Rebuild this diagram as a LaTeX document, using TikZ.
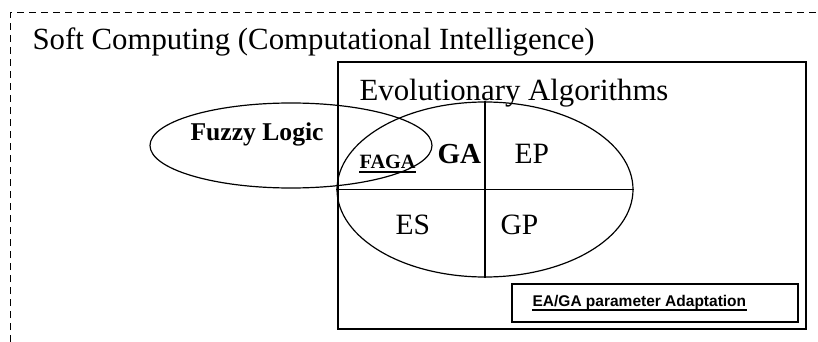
\documentclass[tikz,border=0pt]{standalone}
\usepackage{fontspec}
\setmainfont{Liberation Serif}
\setsansfont{Liberation Sans}
\usepackage{tikz}
\usetikzlibrary{shapes.geometric,positioning,calc}

\begin{document}
\begin{tikzpicture}[x=1pt,y=-1pt,line width=1.2pt,
    bigtext/.style={inner sep=0,anchor=base west,font=\fontsize{30.8}{32}\selectfont},
    boldtext/.style={inner sep=0,anchor=base west,font=\bfseries\fontsize{#1}{#1}\selectfont},
    oval/.style={draw,ellipse,inner sep=0},
    frame/.style={draw,inner sep=0,anchor=north west}]
    \useasboundingbox (0,0) rectangle (818,342);
    % outer soft computing frame (runs off the page)
    \draw[line width=1pt,dash pattern=on 7pt off 5pt] (10,342) |- (818,13);
    \node[bigtext] (soft) at (32,50) {Soft Computing (Computational Intelligence)};

    % evolutionary algorithms
    \node[frame,line width=1.6pt,minimum width=468pt,minimum height=267pt] (eabox) at (337,61) {};
    \node[bigtext] (ealbl) at (359,100) {Evolutionary Algorithms};
    \node[oval,minimum width=296pt,minimum height=175pt] (venn) at (485,189.5) {};
    \draw (venn.north) -- (venn.south);
    \draw (venn.west) -- (venn.east);

    % fuzzy logic
    \node[oval,minimum width=282pt,minimum height=85pt] (fuzzy) at (291,145.5) {};
    \node[boldtext=25.6] (fuzzylbl) at (190,140) {Fuzzy Logic};
    \node[boldtext=20.3] (faga) at (359,168) {FAGA};
    \draw[line width=1.8pt] ([yshift=-4pt]faga.base west) -- ([yshift=-4pt]faga.base east);

    \node[boldtext=29] (ga) at (437,163) {GA};
    \node[bigtext,font=\fontsize{29.5}{30}\selectfont] (ep) at (514,163) {EP};
    \node[bigtext,font=\fontsize{29.5}{30}\selectfont] (es) at (395,234) {ES};
    \node[bigtext,font=\fontsize{29.5}{30}\selectfont] (gp) at (500,234) {GP};

    % parameter adaptation
    \node[frame,line width=1.5pt,minimum width=286pt,minimum height=38pt] (adapt) at (511,283) {};
    \node[inner sep=0,anchor=base west,font=\sffamily\bfseries\fontsize{15.5}{16}\selectfont] (adaptlbl) at (532,306) {EA/GA parameter Adaptation};
    \draw[line width=1.3pt] ([yshift=-4pt]adaptlbl.base west) -- ([yshift=-4pt]adaptlbl.base east);
\end{tikzpicture}
\end{document}
